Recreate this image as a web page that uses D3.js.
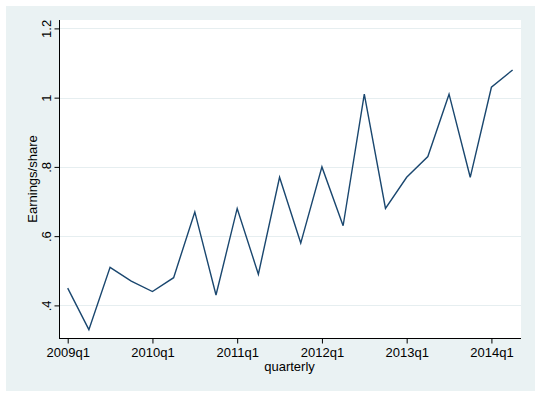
<!DOCTYPE html>
<html>
<head>
<meta charset="utf-8">
<script src="https://cdn.jsdelivr.net/npm/d3@7"></script>
<style>
  html, body { margin: 0; padding: 0; background: #fff; }
  svg { display: block; font-family: "Liberation Sans", Arial, sans-serif; }
</style>
</head>
<body>
<div id="chart"></div>
<script>
// quarterly earnings per share, 2009q1 .. 2014q2
const quarters = [
  "2009q1", "2009q2", "2009q3", "2009q4",
  "2010q1", "2010q2", "2010q3", "2010q4",
  "2011q1", "2011q2", "2011q3", "2011q4",
  "2012q1", "2012q2", "2012q3", "2012q4",
  "2013q1", "2013q2", "2013q3", "2013q4",
  "2014q1", "2014q2"
];
const eps = [
  0.45, 0.33, 0.51, 0.47,
  0.44, 0.48, 0.67, 0.43,
  0.68, 0.49, 0.77, 0.58,
  0.80, 0.63, 1.01, 0.68,
  0.77, 0.83, 1.01, 0.77,
  1.03, 1.08
];
const yTicks = [0.4, 0.6, 0.8, 1, 1.2];
const xTickLabels = ["2009q1", "2010q1", "2011q1", "2012q1", "2013q1", "2014q1"];

const width = 540, height = 396;
const plot = { left: 60, right: 521, top: 20, bottom: 338 };

const x = d3.scaleLinear().domain([0, quarters.length - 1]).range([67.7, 512.6]);
const y = d3.scaleLinear().domain([0.4, 1.2]).range([305.4, 28.4]);

const fmtY = (v) => (v === 1 ? "1" : d3.format(".1f")(v).replace(/^0/, ""));

const svg = d3.select("#chart").append("svg")
  .attr("width", width)
  .attr("height", height);

// outer graph region
svg.append("rect")
  .attr("x", 6).attr("y", 6)
  .attr("width", 529).attr("height", 385)
  .attr("fill", "#eaf2f3");

// plot region
svg.append("rect")
  .attr("x", plot.left).attr("y", plot.top)
  .attr("width", plot.right - plot.left).attr("height", plot.bottom - plot.top)
  .attr("fill", "#fff");

// gridlines
svg.append("g")
  .selectAll("line")
  .data(yTicks)
  .join("line")
  .attr("x1", plot.left).attr("x2", plot.right)
  .attr("y1", (d) => Math.round(y(d)) + 0.5)
  .attr("y2", (d) => Math.round(y(d)) + 0.5)
  .attr("stroke", "#e6eef0")
  .attr("stroke-width", 1);

// y axis
const yAxis = svg.append("g")
  .attr("transform", `translate(${plot.left - 0.5},0)`)
  .call(d3.axisLeft(y).tickValues(yTicks).tickSize(5).tickFormat(fmtY));
yAxis.select(".domain").remove();
yAxis.append("line")
  .attr("y1", plot.top).attr("y2", plot.bottom)
  .attr("stroke", "#000");
yAxis.selectAll(".tick line").attr("stroke", "#000");
yAxis.selectAll(".tick text")
  .attr("x", null).attr("dy", null)
  .attr("transform", "translate(-9,0) rotate(-90)")
  .attr("text-anchor", "middle")
  .attr("fill", "#000")
  .style("font-size", "13px")
  .style("font-family", "Liberation Sans, Arial, sans-serif");

// x axis
const xIdx = xTickLabels.map((q) => quarters.indexOf(q));
const xAxis = svg.append("g")
  .attr("transform", `translate(0,${plot.bottom + 0.5})`)
  .call(d3.axisBottom(x).tickValues(xIdx).tickSize(5).tickFormat((i) => quarters[i]));
xAxis.select(".domain").remove();
xAxis.append("line")
  .attr("x1", plot.left - 1).attr("x2", plot.right)
  .attr("stroke", "#000");
xAxis.selectAll(".tick line").attr("stroke", "#000");
xAxis.selectAll(".tick text")
  .attr("y", 18.5).attr("dy", null)
  .attr("fill", "#000")
  .style("font-size", "13px")
  .style("font-family", "Liberation Sans, Arial, sans-serif");

// axis titles
svg.append("text")
  .attr("transform", `translate(37,${(plot.top + plot.bottom) / 2}) rotate(-90)`)
  .attr("text-anchor", "middle")
  .style("font-size", "13px")
  .text("Earnings/share");

svg.append("text")
  .attr("x", (plot.left + plot.right) / 2 - 1)
  .attr("y", 371)
  .attr("text-anchor", "middle")
  .style("font-size", "13px")
  .text("quarterly");

// series line
const line = d3.line()
  .x((d, i) => x(i))
  .y((d) => y(d));

svg.append("path")
  .datum(eps)
  .attr("fill", "none")
  .attr("stroke", "#1a476f")
  .attr("stroke-width", 1.4)
  .attr("stroke-linejoin", "miter")
  .attr("d", line);
</script>
</body>
</html>
